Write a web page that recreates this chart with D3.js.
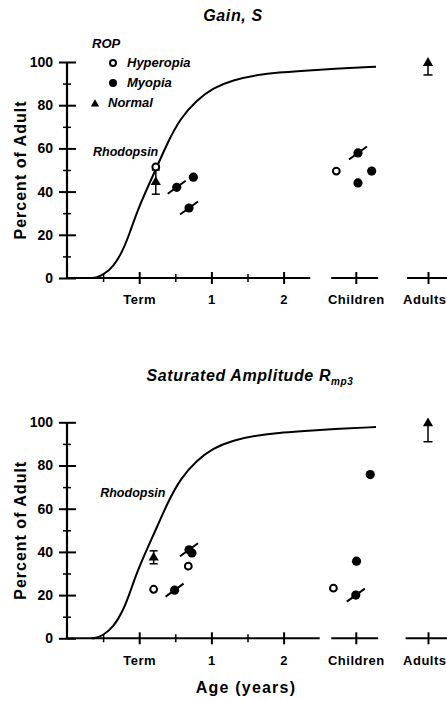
<!DOCTYPE html>
<html>
<head>
<meta charset="utf-8">
<script src="https://cdn.jsdelivr.net/npm/d3@7"></script>
<style>
  body { margin: 0; background: #fff; }
  svg text { font-family: "Liberation Sans", Arial, sans-serif; font-weight: bold; fill: #000; }
</style>
</head>
<body>
<svg id="chart"></svg>
<script>
// ---- data (age in years, Term = 0; Children = 3, Adults = 4) ----
var xMajorTicks = [0, 1, 2, 3, 4];
var xMajorLabels = ["Term", "1", "2", "Children", "Adults"];
var xMinorTicks = [-0.5, 0.5, 1.5];
var yMajorTicks = [0, 20, 40, 60, 80, 100];
var yMinorTicks = [10, 30, 50, 70, 90];

// rhodopsin development curve
var rhodAge = [-0.66, -0.61, -0.50, -0.36, -0.22, -0.13, -0.02, 0.11, 0.25, 0.39, 0.57, 0.80, 1.02, 1.30, 1.63, 1.95, 2.20, 2.70, 3.28];
var rhodPct = [0, 0, 1.4, 5, 13, 21, 31.5, 41.5, 51.8, 62.5, 74, 82.4, 88, 91.7, 94, 95.2, 95.8, 96.9, 97.8];

// Gain, S
var gainHyperopia = [{age: 0.23, pct: 51.4}, {age: 2.73, pct: 49.5}];
var gainMyopia = [
  {age: 0.52, pct: 42, slash: true}, {age: 0.75, pct: 46.7, slash: false},
  {age: 0.69, pct: 32.4, slash: true}, {age: 3.03, pct: 57.9, slash: true},
  {age: 3.03, pct: 44, slash: false}, {age: 3.22, pct: 49.5, slash: false}
];
var gainNormal = [{age: 0.23, pct: 44.4, lo: 38.8, hi: 50}];
var gainAdult = [{age: 4.0, pct: 100, lo: 94}];

// Saturated amplitude Rmp3
var ampHyperopia = [{age: 0.20, pct: 22.7}, {age: 0.68, pct: 33.4}, {age: 2.69, pct: 23.2}];
var ampMyopia = [
  {age: 0.49, pct: 22.3, slash: true}, {age: 0.69, pct: 41, slash: true},
  {age: 0.73, pct: 39.5, slash: false}, {age: 3.01, pct: 35.7, slash: false},
  {age: 3.0, pct: 20, slash: true}, {age: 3.2, pct: 75.8, slash: false}
];
var ampNormal = [{age: 0.20, pct: 37.4, lo: 34.5, hi: 40.5}];
var ampAdult = [{age: 4.0, pct: 100, lo: 91}];

var width = 447, height = 701;

var svg = d3.select("#chart")
    .attr("width", width)
    .attr("height", height);

var x = d3.scaleLinear().domain([-1, 4]).range([67, 428]);

var line = d3.line()
    .x(function(d) { return x(d[0]); })
    .y(function(d) { return d[1]; })
    .curve(d3.curveBasis);

function drawPanel(off, opts) {
  var y = d3.scaleLinear().domain([0, 100]).range([278 + off, 62 + off]);
  var g = svg.append("g");

  // title
  var t = g.append("text")
      .attr("x", opts.titleX)
      .attr("y", 21 + off)
      .attr("text-anchor", "middle")
      .style("font-size", "16px")
      .style("font-style", "italic")
      .style("letter-spacing", "0.6px")
      .text(opts.title);
  if (opts.sub) {
    t.append("tspan")
        .attr("dy", 4)
        .style("font-size", "10px")
        .text(opts.sub);
  }

  // y axis
  var yAx = g.append("g")
      .attr("transform", "translate(" + x(-1) + ",0)")
      .call(d3.axisLeft(y).tickValues(yMajorTicks).tickSize(8).tickPadding(6));
  yAx.select(".domain").remove();
  yAx.selectAll(".tick line").attr("x1", 9).attr("stroke", "#000").attr("stroke-width", 2);
  yAx.selectAll(".tick text")
      .style("font-size", "14px")
      .style("font-family", "'Liberation Sans', Arial, sans-serif")
      .style("font-weight", "bold");

  var yMin = g.append("g")
      .attr("transform", "translate(" + x(-1) + ",0)")
      .call(d3.axisLeft(y).tickValues(yMinorTicks).tickSize(4).tickFormat(""));
  yMin.select(".domain").remove();
  yMin.selectAll(".tick line").attr("x1", 4).attr("stroke", "#000").attr("stroke-width", 1.5);

  g.append("line")
      .attr("x1", x(-1)).attr("x2", x(-1))
      .attr("y1", y(0)).attr("y2", y(100))
      .attr("stroke", "#000").attr("stroke-width", 2.2);

  // x axis, broken into segments
  opts.segments.forEach(function(s) {
    g.append("line")
        .attr("x1", x(s[0])).attr("x2", x(s[1]))
        .attr("y1", y(0)).attr("y2", y(0))
        .attr("stroke", "#000").attr("stroke-width", 2);
  });

  var xAx = g.append("g")
      .attr("transform", "translate(0," + y(0) + ")")
      .call(d3.axisBottom(x).tickValues(xMajorTicks).tickSize(6).tickPadding(11)
        .tickFormat(function(d, i) { return xMajorLabels[i]; }));
  xAx.select(".domain").remove();
  xAx.selectAll(".tick line").attr("y1", -6).attr("stroke", "#000").attr("stroke-width", 2);
  xAx.selectAll(".tick text")
      .style("font-size", "13px")
      .style("letter-spacing", "0.5px")
      .style("font-family", "'Liberation Sans', Arial, sans-serif")
      .style("font-weight", "bold");
  // the Adults label runs into the right edge of the page
  xAx.selectAll(".tick text").filter(function(d) { return d === 4; })
      .attr("text-anchor", "end")
      .attr("x", width - x(4) - 1);

  var xMin = g.append("g")
      .attr("transform", "translate(0," + y(0) + ")")
      .call(d3.axisBottom(x).tickValues(xMinorTicks).tickSize(4).tickFormat(""));
  xMin.select(".domain").remove();
  xMin.selectAll(".tick line").attr("y1", -4).attr("stroke", "#000").attr("stroke-width", 1.5);

  // y title
  g.append("text")
      .attr("transform", "translate(26," + y(50) + ") rotate(-90)")
      .attr("text-anchor", "middle")
      .style("font-size", "16px")
      .style("letter-spacing", "1px")
      .text("Percent of Adult");

  // rhodopsin curve
  var pts = rhodAge.map(function(a, i) { return [a, y(rhodPct[i])]; });
  g.append("path")
      .attr("d", line(pts))
      .attr("fill", "none")
      .attr("stroke", "#000")
      .attr("stroke-width", 2);

  g.append("text")
      .attr("x", x(opts.rhodLabel[0]))
      .attr("y", y(opts.rhodLabel[1]))
      .style("font-size", "12.5px")
      .style("font-style", "italic")
      .text("Rhodopsin");

  // normal means with error bars
  opts.normal.forEach(function(d) {
    g.append("line")
        .attr("x1", x(d.age)).attr("x2", x(d.age))
        .attr("y1", y(d.lo)).attr("y2", y(d.hi))
        .attr("stroke", "#000").attr("stroke-width", 1.5);
    [d.lo, d.hi].forEach(function(v) {
      g.append("line")
          .attr("x1", x(d.age) - 4).attr("x2", x(d.age) + 4)
          .attr("y1", y(v)).attr("y2", y(v))
          .attr("stroke", "#000").attr("stroke-width", 1.5);
    });
    g.append("path")
        .attr("d", d3.symbol(d3.symbolTriangle, 45)())
        .attr("transform", "translate(" + x(d.age) + "," + y(d.pct) + ")");
  });

  // adults: one-sided bar with arrow
  opts.adult.forEach(function(d) {
    g.append("line")
        .attr("x1", x(d.age)).attr("x2", x(d.age))
        .attr("y1", y(d.lo)).attr("y2", y(d.pct))
        .attr("stroke", "#000").attr("stroke-width", 1.5);
    g.append("line")
        .attr("x1", x(d.age) - 4.5).attr("x2", x(d.age) + 4.5)
        .attr("y1", y(d.lo)).attr("y2", y(d.lo))
        .attr("stroke", "#000").attr("stroke-width", 1.5);
    g.append("path")
        .attr("d", d3.symbol(d3.symbolTriangle, 45)())
        .attr("transform", "translate(" + x(d.age) + "," + (y(d.pct) + 1) + ")");
  });

  // myopia (filled), with slash when marked
  opts.myopia.forEach(function(d) {
    var cx = x(d.age), cy = y(d.pct);
    if (d.slash) {
      g.append("line")
          .attr("x1", cx - 9).attr("y1", cy + 6.5)
          .attr("x2", cx + 9).attr("y2", cy - 6.5)
          .attr("stroke", "#000").attr("stroke-width", 2);
    }
    g.append("circle").attr("cx", cx).attr("cy", cy).attr("r", 4.6).attr("fill", "#000");
  });

  // hyperopia (open)
  opts.hyperopia.forEach(function(d) {
    g.append("circle")
        .attr("cx", x(d.age)).attr("cy", y(d.pct)).attr("r", 3.4)
        .attr("fill", "#fff").attr("stroke", "#000").attr("stroke-width", 2);
  });

  return y;
}

drawPanel(0, {
  title: "Gain, S", titleX: 233,
  segments: [[-1, 2.37], [2.66, 3.31], [3.71, 4.4]],
  rhodLabel: [-0.64, 56.5],
  hyperopia: gainHyperopia, myopia: gainMyopia, normal: gainNormal, adult: gainAdult
});

drawPanel(360.3, {
  title: "Saturated Amplitude R", sub: "mp3", titleX: 250,
  segments: [[-1, 2.50], [2.66, 3.31], [3.69, 4.4]],
  rhodLabel: [-0.54, 65.2],
  hyperopia: ampHyperopia, myopia: ampMyopia, normal: ampNormal, adult: ampAdult
});

// legend (top panel)
var legend = svg.append("g");
legend.append("text").attr("x", 92).attr("y", 48)
    .style("font-size", "13px").style("font-style", "italic").text("ROP");
legend.append("circle").attr("cx", 113).attr("cy", 63).attr("r", 3)
    .attr("fill", "#fff").attr("stroke", "#000").attr("stroke-width", 2);
legend.append("text").attr("x", 127).attr("y", 67)
    .style("font-size", "13px").style("font-style", "italic").text("Hyperopia");
legend.append("circle").attr("cx", 113).attr("cy", 83).attr("r", 4).attr("fill", "#000");
legend.append("text").attr("x", 127).attr("y", 87)
    .style("font-size", "13px").style("font-style", "italic").text("Myopia");
legend.append("path").attr("d", d3.symbol(d3.symbolTriangle, 30)())
    .attr("transform", "translate(95,104)");
legend.append("text").attr("x", 108).attr("y", 107)
    .style("font-size", "13px").style("font-style", "italic").text("Normal");

// x title
svg.append("text")
    .attr("x", 246).attr("y", 693)
    .attr("text-anchor", "middle")
    .style("font-size", "16px")
    .style("letter-spacing", "1.2px")
    .text("Age (years)");
</script>
</body>
</html>
